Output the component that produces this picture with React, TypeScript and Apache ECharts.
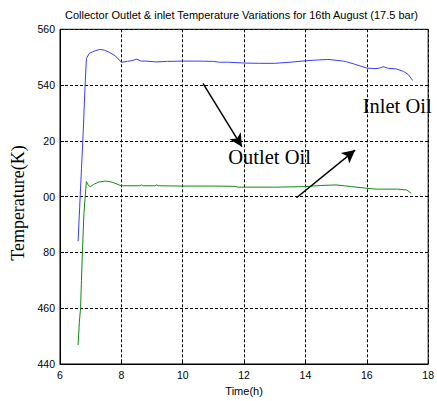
import React, { useEffect, useRef } from "react";
import * as echarts from "echarts";

const TITLE = "Collector Outlet & inlet Temperature Variations for 16th August (17.5 bar)";
const X_NAME = "Time(h)";
const Y_NAME = "Temperature(K)";

// upper (blue) curve
const blueTime = [6.59, 6.64, 6.70, 6.76, 6.81, 6.86, 6.95, 7.05, 7.15, 7.29, 7.45, 7.6, 7.8, 8.0, 8.2, 8.35, 8.5, 8.65, 8.8, 9.13, 9.5, 10.0, 10.5, 11.0, 11.2, 11.5, 12.0, 12.5, 13.0, 13.5, 14.0, 14.4, 14.73, 15.0, 15.3, 15.6, 16.0, 16.3, 16.45, 16.53, 16.7, 16.96, 17.2, 17.35, 17.5];
const blueTemp = [484, 496, 510, 524, 538, 549.5, 551.3, 551.9, 552.3, 552.8, 552.5, 551.8, 550.5, 548.2, 548.5, 548.8, 549.3, 548.6, 548.6, 548.3, 548.5, 548.6, 548.6, 548.5, 548.2, 548.2, 547.9, 547.8, 547.8, 548.2, 548.7, 549.0, 549.2, 548.9, 548.5, 547.5, 546.1, 545.9, 546.2, 546.6, 546.0, 545.8, 544.9, 543.8, 541.6];

// lower (green) curve
const greenTime = [6.59, 6.63, 6.67, 6.70, 6.73, 6.78, 6.82, 6.86, 6.90, 6.95, 7.0, 7.1, 7.25, 7.48, 7.7, 7.9, 8.0, 8.6, 8.65, 8.7, 9.1, 9.15, 9.2, 10, 11, 11.7, 11.8, 13, 14.0, 14.5, 15.0, 15.5, 16.0, 16.3, 17.0, 17.3, 17.45];
const greenTemp = [446.8, 455, 460, 470, 480, 494, 500, 505.4, 504.5, 503.8, 503.6, 504.4, 505.2, 505.6, 505.2, 504.3, 503.9, 503.9, 504.2, 503.9, 503.9, 504.2, 503.9, 503.8, 503.8, 503.7, 503.4, 503.4, 503.6, 504.0, 504.2, 503.6, 503.0, 502.7, 502.7, 502.4, 501.2];

// annotation arrows [fromTime, fromTemp, toTime, toTemp]
const arrowOutlet = [10.66, 540.6, 11.93, 517.9];
const arrowInlet = [13.71, 499.6, 15.62, 516.7];
const LABEL_INLET = "Inlet Oil";
const LABEL_OUTLET = "Outlet Oil";

const X_TICKS = { min: 6, max: 18, interval: 2 };
const Y_TICKS = { min: 440, max: 560, interval: 20 };

const SANS = "'Liberation Sans', Arial, sans-serif";
const SERIF = "'Liberation Serif', 'Times New Roman', serif";

export default function App() {
  const ref = useRef<HTMLDivElement>(null);
  useEffect(() => {
    if (!ref.current) return;
    const chart = echarts.init(ref.current, null, { renderer: "svg" });
    const zip = (xs: number[], ys: number[]) => xs.map((x, i) => [x, ys[i]]);
    const arrow = (a: number[]) => [{ coord: [a[0], a[1]] }, { coord: [a[2], a[3]] }];
    chart.setOption({
      animation: false,
      backgroundColor: "#fff",
      title: {
        text: TITLE,
        left: 65,
        top: 9,
        padding: 0,
        textStyle: { fontFamily: SANS, fontSize: 11, fontWeight: "normal", color: "#000" },
      },
      grid: { left: 60, right: 6, top: 29.3, bottom: 36.7, show: true, borderColor: "#000", borderWidth: 1, backgroundColor: "#fff" },
      xAxis: {
        type: "value",
        min: X_TICKS.min,
        max: X_TICKS.max,
        interval: X_TICKS.interval,
        name: X_NAME,
        nameLocation: "middle",
        nameGap: 21,
        nameTextStyle: { fontFamily: SANS, fontSize: 11, color: "#000" },
        axisLine: { lineStyle: { color: "#000", width: 1 } },
        axisTick: { inside: true, length: 4, lineStyle: { color: "#000" } },
        axisLabel: { fontFamily: SANS, fontSize: 10.5, color: "#000", margin: 5, showMinLabel: true, showMaxLabel: true },
        splitLine: { show: true, lineStyle: { color: "#000", type: [3, 2], width: 1 } },
      },
      yAxis: {
        type: "value",
        min: Y_TICKS.min,
        max: Y_TICKS.max,
        interval: Y_TICKS.interval,
        axisLine: { show: true, lineStyle: { color: "#000", width: 1 } },
        axisTick: { show: true, inside: true, length: 4, lineStyle: { color: "#000" } },
        axisLabel: { fontFamily: SANS, fontSize: 10.5, color: "#000", margin: 5 },
        splitLine: { show: true, lineStyle: { color: "#000", type: [3, 2], width: 1 } },
      },
      series: [
        {
          type: "line",
          data: zip(blueTime, blueTemp),
          showSymbol: false,
          symbol: "none",
          lineStyle: { color: "#3c3cff", width: 1 },
          markLine: {
            silent: true,
            symbol: ["none", "arrow"],
            symbolSize: [10, 13],
            label: { show: false },
            lineStyle: { color: "#000", width: 1.5, type: "solid" },
            data: [arrow(arrowOutlet), arrow(arrowInlet)],
          },
        },
        {
          type: "line",
          data: zip(greenTime, greenTemp),
          showSymbol: false,
          symbol: "none",
          lineStyle: { color: "#128a12", width: 1 },
        },
      ],
      graphic: [
        { type: "rect", z: 100, shape: { x: 8, y: 134, width: 35, height: 132 }, style: { fill: "#fff" } },
        {
          type: "text",
          z: 101,
          x: 18,
          y: 203,
          rotation: Math.PI / 2,
          style: { text: Y_NAME, fontFamily: SERIF, fontSize: 18, fill: "#000", align: "center", verticalAlign: "middle" },
        },
        {
          type: "text",
          z: 101,
          x: 362.7,
          y: 106,
          style: { text: LABEL_INLET, fontFamily: SERIF, fontSize: 20.5, fill: "#000", align: "left", verticalAlign: "middle" },
        },
        {
          type: "text",
          z: 101,
          x: 228.3,
          y: 157,
          style: { text: LABEL_OUTLET, fontFamily: SERIF, fontSize: 20.5, fill: "#000", align: "left", verticalAlign: "middle" },
        },
      ],
    });
    return () => chart.dispose();
  }, []);
  return <div ref={ref} style={{ position: "fixed", left: 0, top: 0, width: 437, height: 401 }} />;
}
